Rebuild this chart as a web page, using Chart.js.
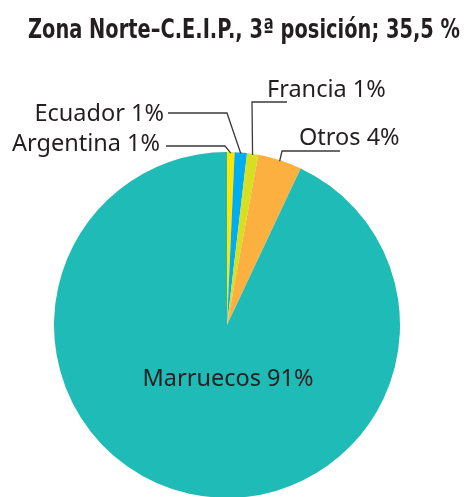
<!DOCTYPE html>
<html>
<head>
<meta charset="utf-8">
<script src="https://cdn.jsdelivr.net/npm/chart.js@4/dist/chart.umd.min.js"></script>
<style>
  html, body { margin: 0; padding: 0; background: #fff; overflow: hidden; }
  #wrap { position: absolute; left: 0; top: 0; width: 466px; height: 510px; }
</style>
</head>
<body>
<div id="wrap"><canvas id="pie" width="466" height="510"></canvas></div>
<script>
const chartTitle = 'Zona Norte–C.E.I.P., 3ª posición; 35,5 %';
const countries = ['Argentina', 'Ecuador', 'Francia', 'Otros', 'Marruecos'];
const shares = [0.7, 1.15, 1.05, 4.1, 93];
const pctLabels = ['1%', '1%', '1%', '4%', '91%'];
const sliceColors = ['#ffe500', '#00aeef', '#d7df23', '#fbb040', '#1fbbb6'];

// where each callout goes (elbow, line end, text anchor)
const callouts = [
    { elbow: [225, 146], end: [166, 146], text: [160, 151], align: 'right' },
    { elbow: [227, 113], end: [168, 113], text: [164, 121], align: 'right' },
    { elbow: [252, 102], end: [287, 102], text: [267, 97], align: 'left' },
    { elbow: [282, 151], end: [340, 151], text: [299, 145], align: 'left' },
    null
];

const labelFont = '23.5px "Noto Sans", sans-serif';
const ink = '#231f20';

// title drawn by hand: the original is a bold condensed face, so squeeze
// a normal bold into the same width
const titlePlugin = {
    id: 'handTitle',
    afterDraw(chart) {
        const ctx = chart.ctx;
        ctx.save();
        ctx.font = 'bold 27px "DejaVu Sans", sans-serif';
        ctx.fillStyle = ink;
        ctx.textAlign = 'center';
        ctx.textBaseline = 'alphabetic';
        ctx.fillText(chartTitle, 244, 38, 432);
        ctx.restore();
    }
};

const calloutPlugin = {
    id: 'callouts',
    afterDatasetsDraw(chart) {
        const ctx = chart.ctx;
        const arcs = chart.getDatasetMeta(0).data;
        ctx.save();
        ctx.font = labelFont;
        ctx.fillStyle = ink;
        ctx.strokeStyle = '#3a3a3a';
        ctx.lineWidth = 1.3;
        arcs.forEach((arc, i) => {
            const p = arc.getProps(['x', 'y', 'startAngle', 'endAngle', 'outerRadius'], true);
            const mid = (p.startAngle + p.endAngle) / 2;
            const text = countries[i] + ' ' + pctLabels[i];
            const c = callouts[i];
            if (!c) {
                // big slice: label inside
                ctx.textAlign = 'center';
                ctx.textBaseline = 'alphabetic';
                ctx.fillText(text, p.x + 1, p.y + 61);
                return;
            }
            const ax = p.x + Math.cos(mid) * (p.outerRadius - 1);
            const ay = p.y + Math.sin(mid) * (p.outerRadius - 1);
            ctx.beginPath();
            ctx.moveTo(ax, ay);
            ctx.lineTo(c.elbow[0], c.elbow[1]);
            ctx.lineTo(c.end[0], c.end[1]);
            ctx.stroke();
            ctx.textAlign = c.align;
            ctx.textBaseline = 'alphabetic';
            ctx.fillText(text, c.text[0], c.text[1]);
        });
        ctx.restore();
    }
};

new Chart(document.getElementById('pie'), {
    type: 'pie',
    data: {
        labels: countries,
        datasets: [{
            data: shares,
            backgroundColor: sliceColors,
            borderWidth: 0
        }]
    },
    options: {
        responsive: false,
        animation: false,
        devicePixelRatio: 1,
        layout: { padding: { top: 152, bottom: 12, left: 54, right: 66 } },
        plugins: {
            legend: { display: false },
            tooltip: { enabled: false },
            title: { display: false }
        }
    },
    plugins: [calloutPlugin, titlePlugin]
});
</script>
</body>
</html>
